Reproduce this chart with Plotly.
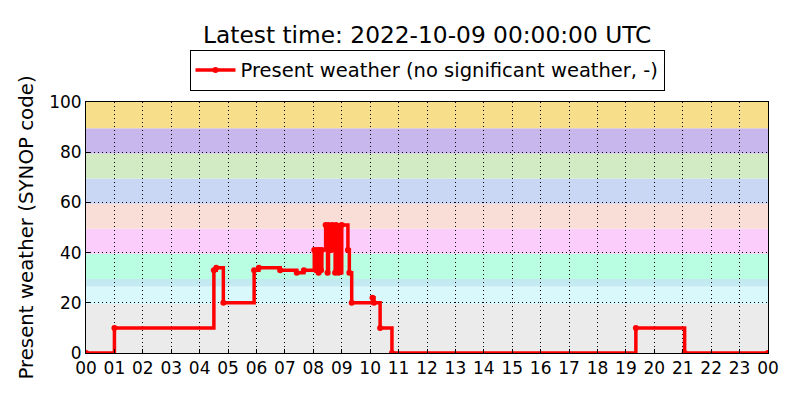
import plotly.graph_objects as go

# observation times (UTC, 2022-10-08) where the present weather code changes
obs_time = [
    "00:00", "01:00", "04:30", "04:35", "04:50", "05:55", "06:05", "06:50",
    "07:25", "07:40", "08:02", "08:06", "08:08", "08:11", "08:13", "08:16",
    "08:18", "08:26", "08:30", "08:32", "08:38", "08:40", "08:46", "08:48",
    "08:53", "09:00", "09:13", "09:16", "09:21", "10:05", "10:08", "10:21",
    "10:46", "19:21", "21:04",
]
ww_code = [
    0, 10, 33, 34, 20, 33, 34, 33,
    32, 33, 41, 33, 41, 32, 41, 33,
    41, 51, 32, 51, 41, 51, 32, 51,
    32, 51, 41, 32, 20, 22, 20, 10,
    0, 10, 0,
]

# background bands per SYNOP code group
band_lo = [0, 19.5, 26.5, 29.5, 39.5, 49.5, 59.5, 69.5, 79.5, 89.5]
band_hi = [19.5, 26.5, 29.5, 39.5, 49.5, 59.5, 69.5, 79.5, 89.5, 100]
band_col = ["#ebebeb", "#d8f8fc", "#c4eaf1", "#b9fde3", "#fbcdfa",
            "#f8ded6", "#c9d7f5", "#d3ebc5", "#c8b7ec", "#f7de8b"]

day = "2022-10-08"
x = [f"{day} {t}" for t in obs_time] + ["2022-10-09 00:00"]
y = ww_code + [ww_code[-1]]

font = "DejaVu Sans"
fig = go.Figure()
fig.add_trace(go.Scatter(
    x=x, y=y, mode="lines+markers", line_shape="hv",
    line=dict(color="#ff0000", width=3.5),
    marker=dict(color="#ff0000", size=6),
    name="Present weather (no significant weather, -)",
))

for lo, hi, c in zip(band_lo, band_hi, band_col):
    fig.add_shape(type="rect", xref="paper", yref="y", x0=0, x1=1, y0=lo, y1=hi,
                  fillcolor=c, line_width=0, layer="below")

fig.update_layout(
    width=800, height=400,
    margin=dict(l=86, r=32, t=102, b=47),
    paper_bgcolor="white", plot_bgcolor="white",
    font=dict(family=font, size=17, color="black"),
    title=dict(text="Latest time: 2022-10-09 00:00:00 UTC", x=0.534, xanchor="center",
               y=0.912, yanchor="middle", font=dict(size=23.3, family=font)),
    showlegend=True,
    legend=dict(orientation="h", x=0.5, xanchor="center", y=1.045, yanchor="bottom",
                bordercolor="black", borderwidth=1, font=dict(size=19.5),
                bgcolor="white", itemwidth=40),
)
grid = dict(showgrid=True, gridcolor="black", griddash="1px,3px", gridwidth=1,
            showline=True, linecolor="black", linewidth=1, mirror=True,
            ticks="inside", ticklen=4, tickcolor="black",
            tickfont=dict(size=17), zeroline=False, automargin=False)
fig.update_xaxes(
    type="date", range=["2022-10-08 00:00", "2022-10-09 00:00"],
    dtick=3600000, tickformat="%H", tick0="2022-10-08 00:00", **grid,
)
fig.update_yaxes(
    range=[0, 100], dtick=20,
    title=dict(text="Present weather (SYNOP code)", font=dict(size=19.8), standoff=10),
    **grid,
)

fig.write_html("out.html", config={"displayModeBar": False},
               post_script="document.body.style.margin='0';")
